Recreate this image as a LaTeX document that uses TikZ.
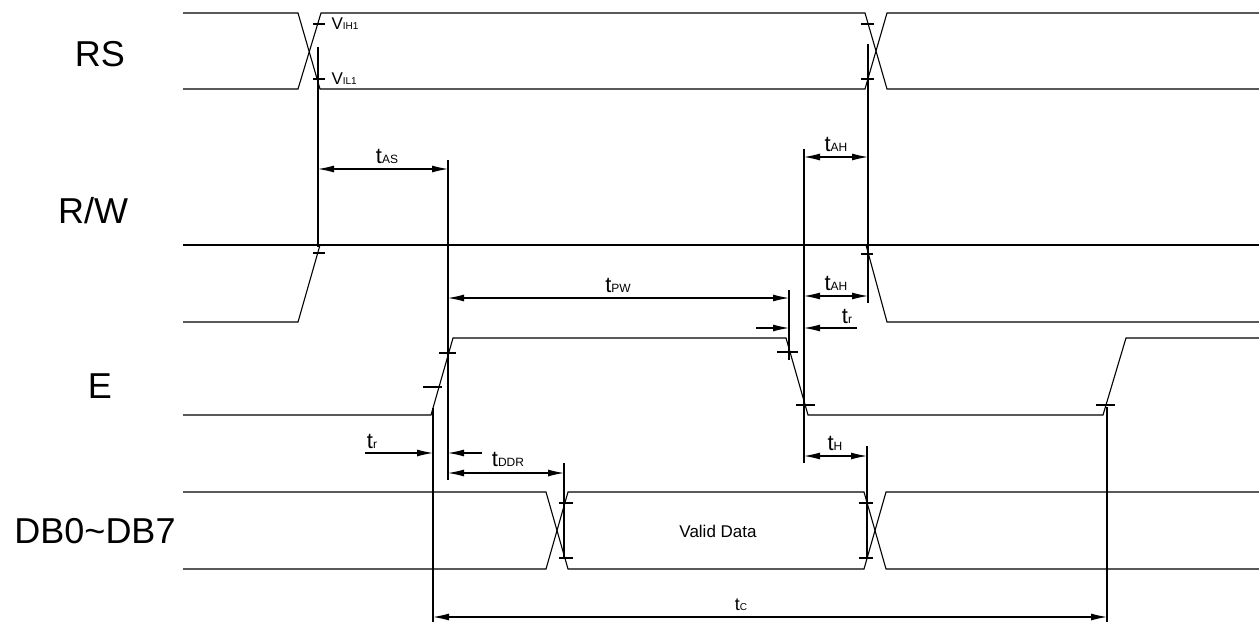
\documentclass[tikz,border=0pt]{standalone}
\usepackage{fontspec}
\setmainfont{Liberation Sans}
\usetikzlibrary{arrows.meta}
\newcommand{\tlab}[1]{{\fontsize{22}{22}\selectfont t}{\fontsize{12}{12}\selectfont #1}}
\newcommand{\vlab}[1]{{\fontsize{17}{17}\selectfont V}{\fontsize{10}{10}\selectfont #1}}
\begin{document}
\begin{tikzpicture}[x=1pt,y=-1pt,line width=1.1pt]
\tikzset{dim/.style={{Latex[length=16pt,width=7pt]}-{Latex[length=16pt,width=7pt]}},
  pin/.style={-{Latex[length=16pt,width=7pt]}},
  sig/.style={font=\fontsize{36}{36}\selectfont}}
\useasboundingbox (0,0) rectangle (1259,623);
% signal names
\path node[sig] (rs) at (100,54) {RS};
\path node[sig] (rw) at (93,211) {R/W};
\path node[sig] (e) at (100,386) {E};
\path node[sig] (db) at (95,531) {DB0\textasciitilde DB7};
% RS
\draw (183,13) -- (298,13) -- (320,89) -- (865,89) -- (887,13) -- (1259,13);
\draw (183,89) -- (298,89) -- (321,13) -- (865,13) -- (887,89) -- (1259,89);
\draw (313,24) -- (325,24);
\draw (313,79) -- (325,79);
\draw (861,24) -- (874,24);
\draw (861,79) -- (874,79);
\path node[anchor=west,inner sep=0] (vih) at (331,24) {\vlab{IH1}};
\path node[anchor=west,inner sep=0] (vil) at (331,79) {\vlab{IL1}};
% R/W
\draw (183,245) -- (1259,245);
\draw (183,322) -- (298,322) -- (320,245);
\draw (866,245) -- (887,322) -- (1259,322);
\draw (313,253) -- (325,253);
\draw (861,254) -- (873,254);
% E
\draw (183,415) -- (431,415) -- (453,338) -- (786,338) -- (808,415) -- (1103,415) -- (1126,338) -- (1259,338);
\draw (439,353) -- (456,353);
\draw (423,387) -- (442,387);
\draw (777,352) -- (798,352);
\draw (796,405) -- (815,405);
\draw (1096,405) -- (1115,405);
% DB0~DB7
\draw (183,492) -- (546,492) -- (568,569) -- (864,569) -- (886,492) -- (1259,492);
\draw (183,569) -- (546,569) -- (568,492) -- (864,492) -- (886,569) -- (1259,569);
\draw (559,503) -- (573,503);
\draw (559,558) -- (573,558);
\draw (859,503) -- (873,503);
\draw (859,558) -- (873,558);
\path node[font=\fontsize{17}{17}\selectfont] (valid) at (718,531) {Valid Data};
% extension lines
\draw (318,47) -- (318,247);
\draw (868,44) -- (868,303);
\draw (448,160) -- (448,480);
\draw (804,149) -- (804,463);
\draw (789,290) -- (789,360);
\draw (433,408) -- (433,622);
\draw (1107,407) -- (1107,622);
\draw (564,463) -- (564,558);
\draw (867,446) -- (867,558);
% timings
\draw[dim] (318,169) -- (448,169);
\path node (tas) at (387,156) {\tlab{AS}};
\draw[dim] (804,157) -- (868,157);
\path node (tah) at (836,144) {\tlab{AH}};
\draw[dim] (804,296) -- (868,296);
\path node (tah2) at (836,283) {\tlab{AH}};
\draw[dim] (448,298) -- (789,298);
\path node (tpw) at (618,285) {\tlab{PW}};
\draw[pin] (756,328) -- (789,328);
\draw[pin] (857,328) -- (804,328);
\path node (tr) at (847,316) {\tlab{r}};
\draw[pin] (365,453) -- (433,453);
\draw[pin] (482,453) -- (448,453);
\path node (tr2) at (372,441) {\tlab{r}};
\draw[dim] (448,473) -- (564,473);
\path node (tddr) at (508,459) {\tlab{DDR}};
\draw[dim] (804,456) -- (867,456);
\path node (th) at (835,443) {\tlab{H}};
\draw[dim] (433,617) -- (1107,617);
\path node (tc) at (741,605) {{\fontsize{18}{18}\selectfont t}{\fontsize{10}{10}\selectfont C}};
\end{tikzpicture}
\end{document}
